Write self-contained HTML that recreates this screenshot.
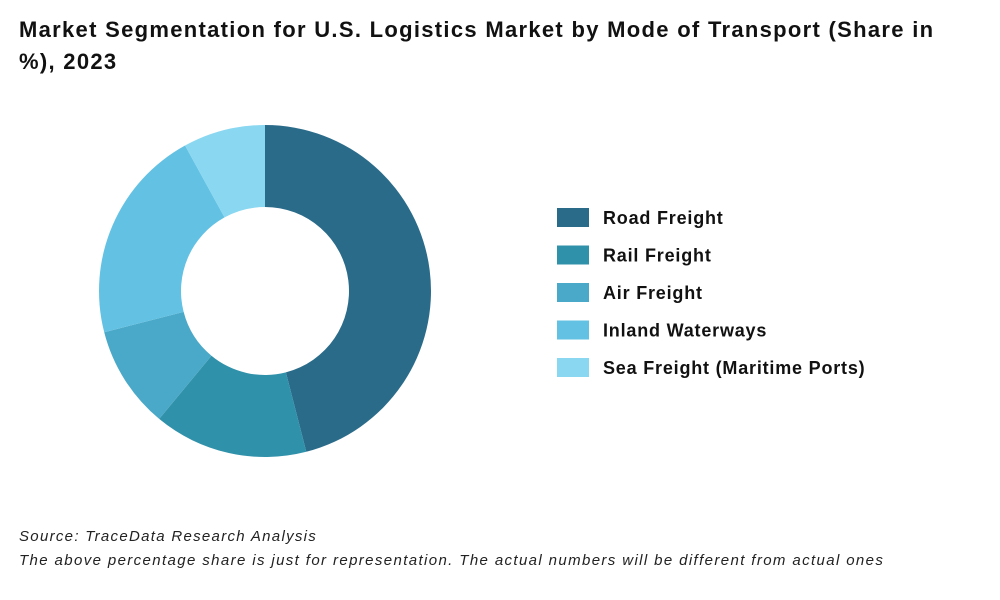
<!DOCTYPE html>
<html><head><meta charset="utf-8">
<style>
body{margin:0;width:1000px;height:600px;background:#fff;font-family:"Liberation Sans",sans-serif;overflow:hidden;position:relative}
#title{position:absolute;left:19px;top:14px;width:945px;font-size:22px;font-weight:bold;color:#111;line-height:32px;letter-spacing:1.3px}
.src{position:absolute;left:19px;font-size:15px;font-style:italic;color:#222}
</style></head><body>
<div id="title">Market Segmentation for U.S. Logistics Market by Mode of Transport (Share in %), 2023</div>
<svg id="chart" width="1000" height="600" style="position:absolute;left:0;top:0"></svg>
<div class="src" style="top:528px;letter-spacing:1.3px">Source: TraceData Research Analysis</div>
<div class="src" style="top:552px;letter-spacing:1.38px">The above percentage share is just for representation. The actual numbers will be different from actual ones</div>
<script>
const categories=["Road Freight","Rail Freight","Air Freight","Inland Waterways","Sea Freight (Maritime Ports)"];
const values=[46,15,10,21,8];
const colors=["#2a6b8a","#3091aa","#4aa9c8","#63c1e3","#89d7f1"];
const svg=document.getElementById('chart');
const NS="http://www.w3.org/2000/svg";
const cx=265,cy=291,R=166,r=84;
const total=values.reduce((a,b)=>a+b,0);
function pt(a,rad){return [cx+rad*Math.sin(a),cy-rad*Math.cos(a)];}
let acc=0;
values.forEach((v,i)=>{
  const a0=acc/total*2*Math.PI; acc+=v; const a1=acc/total*2*Math.PI;
  const large=(a1-a0)>Math.PI?1:0;
  const p0=pt(a0,R),p1=pt(a1,R),q1=pt(a1,r),q0=pt(a0,r);
  const p=document.createElementNS(NS,'path');
  p.setAttribute('d',`M${p0} A${R},${R} 0 ${large} 1 ${p1} L${q1} A${r},${r} 0 ${large} 0 ${q0} Z`);
  p.setAttribute('fill',colors[i]);
  
  
  svg.appendChild(p);
  const y=208+i*37.5;
  const rc=document.createElementNS(NS,'rect');
  rc.setAttribute('x',557);rc.setAttribute('y',y);rc.setAttribute('width',32);rc.setAttribute('height',19);rc.setAttribute('fill',colors[i]);
  
  
  svg.appendChild(rc);
  const t=document.createElementNS(NS,'text');
  t.setAttribute('x',603);t.setAttribute('y',y+16);t.setAttribute('font-size',18);t.setAttribute('font-weight','bold');t.setAttribute('fill','#111');
  t.setAttribute('letter-spacing','0.8');
  t.setAttribute('font-family','"Liberation Sans",sans-serif');
  t.textContent=categories[i];
  
  
  svg.appendChild(t);
});
</script>
</body></html>
